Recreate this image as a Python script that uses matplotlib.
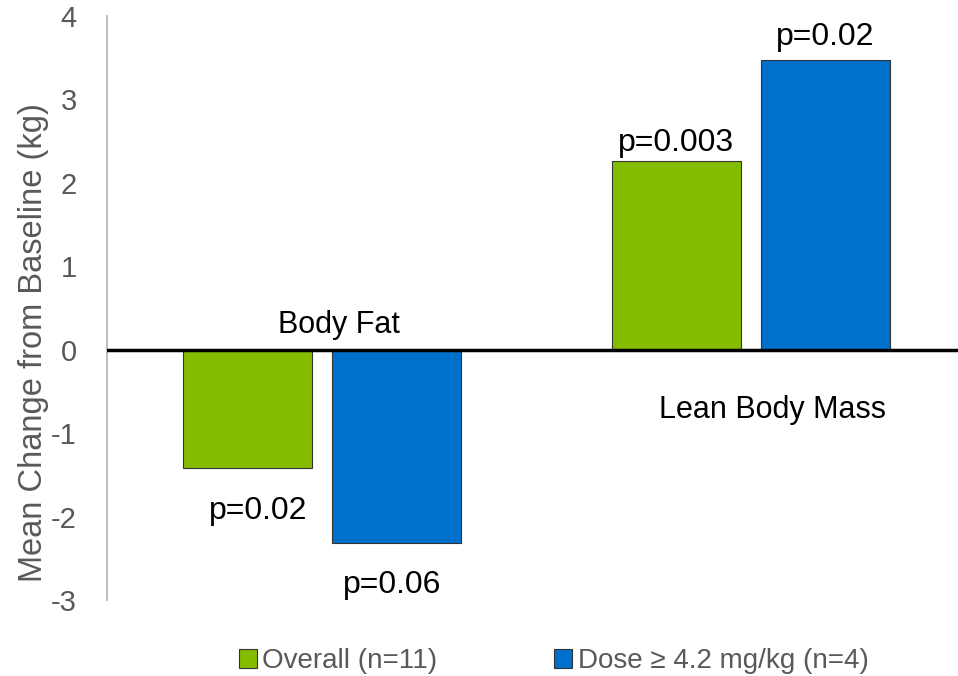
import numpy as np
import matplotlib.pyplot as plt

plt.rcParams['font.family'] = ['Liberation Sans', 'DejaVu Sans']
plt.rcParams['axes.unicode_minus'] = False

# data
categories = ["Body Fat", "Lean Body Mass"]
series_names = ["Overall (n=11)", "Dose \u2265 4.2 mg/kg (n=4)"]
overall = [-1.42, 2.26]
high_dose = [-2.32, 3.47]
p_overall = ["p=0.02", "p=0.003"]
p_high_dose = ["p=0.06", "p=0.02"]

colors = ["#84bd00", "#0070cd"]
gray = "#595959"

fig = plt.figure(figsize=(9.58, 6.76), dpi=100)
ax = fig.add_axes([0.112, 0.112, 0.888, 0.865])

x = np.arange(len(categories))
width = 0.30
offset = 0.174

bars1 = ax.bar(x - offset, overall, width, color=colors[0], edgecolor="#333333",
               linewidth=0.8, label=series_names[0], zorder=2)
bars2 = ax.bar(x + offset, high_dose, width, color=colors[1], edgecolor="#333333",
               linewidth=0.8, label=series_names[1], zorder=2)

ax.axhline(0, color="black", linewidth=2.5, zorder=3)

# p-value labels
for b, txt in zip(bars1, p_overall):
    h = b.get_height()
    cx = b.get_x() + b.get_width() / 2
    if h >= 0:
        ax.text(cx, h + 0.12, txt, ha="center", va="baseline", fontsize=23)
    else:
        ax.text(cx + 0.025, h - 0.33, txt, ha="center", va="top", fontsize=23)
for b, txt in zip(bars2, p_high_dose):
    h = b.get_height()
    cx = b.get_x() + b.get_width() / 2
    if h >= 0:
        ax.text(cx, h + 0.18, txt, ha="center", va="baseline", fontsize=23)
    else:
        ax.text(cx - 0.01, h - 0.32, txt, ha="center", va="top", fontsize=23)

# category labels
ax.text(x[0] + 0.04, 0.3, categories[0], ha="center", va="center", fontsize=22)
ax.text(x[1] + 0.05, -0.72, categories[1], ha="center", va="center", fontsize=22)

ax.set_xlim(-0.501, 1.483)
ax.set_ylim(-3, 4)
ax.set_yticks(range(-3, 5))
ax.set_xticks([])
ax.tick_params(axis="y", length=0, labelsize=21, labelcolor=gray, pad=22)
ax.set_ylabel("Mean Change from Baseline (kg)", fontsize=23.5, color=gray)
ax.yaxis.set_label_coords(-0.068, 0.44)

for s in ["top", "right", "bottom"]:
    ax.spines[s].set_visible(False)
ax.spines["left"].set_color("#bfbfbf")
ax.spines["left"].set_linewidth(1.5)

fig.legend(loc="center", bbox_to_anchor=(0.578, 0.022), ncol=2, frameon=False,
           fontsize=20, labelcolor=gray, handlelength=0.65, handleheight=0.65,
           handletextpad=0.2, columnspacing=4.2)

fig.savefig("out.png", dpi=100)
